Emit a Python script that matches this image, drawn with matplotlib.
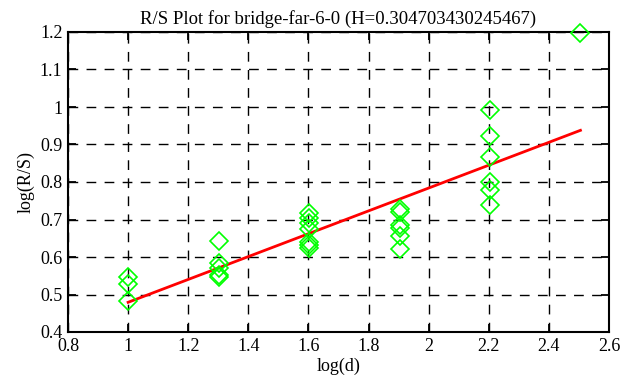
import numpy as np
import matplotlib
matplotlib.use('Agg')
import matplotlib.pyplot as plt
from matplotlib.ticker import FormatStrFormatter, MultipleLocator

plt.rcParams['font.family'] = ['Liberation Serif', 'DejaVu Serif']

title = 'R/S Plot for bridge-far-6-0 (H=0.304703430245467)'

log_d = [1.0, 1.0, 1.0,
         1.301, 1.301, 1.301, 1.301, 1.301,
         1.602, 1.602, 1.602, 1.602, 1.602, 1.602, 1.602,
         1.903, 1.903, 1.903, 1.903, 1.903, 1.903,
         2.204, 2.204, 2.204, 2.204, 2.204, 2.204,
         2.505]
log_rs = [0.547, 0.527, 0.482,
          0.643, 0.584, 0.571, 0.552, 0.547,
          0.717, 0.705, 0.690, 0.675, 0.640, 0.632, 0.625,
          0.728, 0.720, 0.685, 0.677, 0.656, 0.621,
          0.993, 0.924, 0.867, 0.801, 0.779, 0.738,
          1.197]

H = 0.304703430245467
intercept = 0.1745
fit_x = [1.0, 2.505]

fig = plt.figure(figsize=(6.26, 3.87), dpi=100)
ax = fig.add_axes([68/626, 1-332/387, (609-68)/626, 300/387])

fx = np.array(fit_x)
ax.plot(fx, H*fx + intercept, color='#ff0000', lw=2, zorder=2)
ax.plot(log_d, log_rs, linestyle='none', marker='D', markersize=9.5,
        markerfacecolor='none', markeredgecolor='#00ff00', markeredgewidth=1.2,
        zorder=3, clip_on=False)

ax.set_xlim(0.8, 2.6)
ax.set_ylim(0.4, 1.2)
ax.xaxis.set_major_locator(MultipleLocator(0.2))
ax.yaxis.set_major_locator(MultipleLocator(0.1))
ax.xaxis.set_major_formatter(FormatStrFormatter('%g'))
ax.yaxis.set_major_formatter(FormatStrFormatter('%g'))

ax.grid(True, color='black', linestyle=(0, (7, 6)), linewidth=1)
ax.tick_params(direction='in', length=6, width=1.3, top=True, right=True,
               labelsize=13, colors='black', pad=4)
for s in ax.spines.values():
    s.set_linewidth(1.5)

ax.set_title(title, fontsize=13.5, pad=6)
ax.set_xlabel('log(d)', fontsize=13, labelpad=2)
ax.set_ylabel('log(R/S)', fontsize=13, labelpad=4)

fig.savefig('out.png', dpi=100)
